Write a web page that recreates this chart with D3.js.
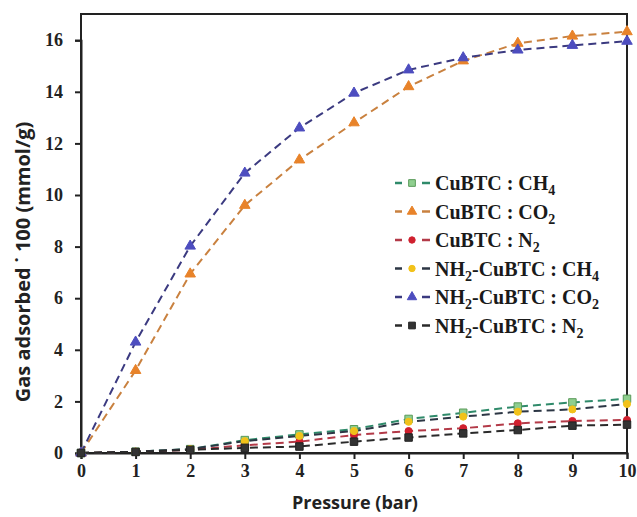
<!DOCTYPE html>
<html><head><meta charset="utf-8">
<script src="https://cdn.jsdelivr.net/npm/d3@7"></script>
<style>body{margin:0;background:#fff}svg{display:block}</style>
</head><body>
<svg id="c" width="637" height="517"></svg>
<script>
const pressure = [0,1,2,3,4,5,6,7,8,9,10];
const cubtcCH4 = [0,0.05,0.15,0.5,0.72,0.92,1.32,1.56,1.8,1.96,2.1];
const cubtcCO2 = [0,3.2,6.94,9.6,11.36,12.8,14.2,15.2,15.88,16.16,16.33];
const cubtcN2  = [0,0.05,0.12,0.3,0.44,0.7,0.85,0.96,1.15,1.24,1.28];
const nh2CH4   = [0,0.05,0.15,0.46,0.66,0.85,1.21,1.41,1.6,1.69,1.9];
const nh2CO2   = [0,4.3,8.02,10.85,12.6,13.95,14.85,15.32,15.62,15.8,15.96];
const nh2N2    = [0,0.04,0.12,0.2,0.25,0.44,0.6,0.76,0.89,1.06,1.1];
const xTicks = [0,1,2,3,4,5,6,7,8,9,10];
const yTicks = [0,2,4,6,8,10,12,14,16];

const series = [
  {pre:"", name:"CuBTC : CH", sub:"4", vals:cubtcCH4, line:"#2f8a6a", fill:"#8fcf8f", stroke:"#5a9a5a", shape:"square"},
  {pre:"", name:"CuBTC : CO", sub:"2", vals:cubtcCO2, line:"#c9813f", fill:"#e8832a", stroke:"#e8832a", shape:"triangle"},
  {pre:"", name:"CuBTC : N", sub:"2", vals:cubtcN2, line:"#b33a48", fill:"#d0202e", stroke:"#d0202e", shape:"circle"},
  {pre:"NH", name:"-CuBTC : CH", sub:"4", vals:nh2CH4, line:"#2c3644", fill:"#f2c21a", stroke:"#f2c21a", shape:"circle"},
  {pre:"NH", name:"-CuBTC : CO", sub:"2", vals:nh2CO2, line:"#3b3a80", fill:"#4d4dbf", stroke:"#4d4dbf", shape:"triangle"},
  {pre:"NH", name:"-CuBTC : N", sub:"2", vals:nh2N2, line:"#2a2a2a", fill:"#333333", stroke:"#222", shape:"square"}
];

const svg = d3.select("#c");
const L=81, R=627, T=14, B=453;
const x = d3.scaleLinear().domain([0,10]).range([L,R]);
const y = d3.scaleLinear().domain([0,16]).range([B, B-16*25.8]);

svg.append("rect").attr("x",L).attr("y",T).attr("width",R-L).attr("height",B-T)
  .attr("fill","none").attr("stroke","#222").attr("stroke-width",2);

const xa = svg.append("g").attr("transform",`translate(0,${B})`)
  .call(d3.axisBottom(x).tickValues(xTicks).tickSize(6).tickPadding(5).tickFormat(d3.format("d")));
const ya = svg.append("g").attr("transform",`translate(${L},0)`)
  .call(d3.axisLeft(y).tickValues(yTicks).tickSize(6).tickPadding(12).tickFormat(d3.format("d")));
[xa,ya].forEach(a=>{
  a.select(".domain").attr("stroke","#222").attr("stroke-width",2);
  a.selectAll(".tick line").attr("stroke","#222").attr("stroke-width",2);
  a.selectAll(".tick text").attr("font-family","'Liberation Serif', serif").attr("font-weight","bold")
    .attr("font-size",18).attr("fill","#222");
});

function sym(shape, k){
  k = k||1;
  if(shape==="square") return d3.symbol().type(d3.symbolSquare).size(56*k)();
  if(shape==="triangle") return d3.symbol().type(d3.symbolTriangle).size(48*k)();
  return d3.symbol().type(d3.symbolCircle).size(40*k)();
}

const line = d3.line().x((d,i)=>x(pressure[i])).y(d=>y(d));
const g = svg.append("g");
series.forEach(s=>{
  g.append("path").datum(s.vals).attr("d",line).attr("fill","none")
    .attr("stroke",s.line).attr("stroke-width",2).attr("stroke-dasharray","8,5");
});
series.forEach(s=>{
  g.selectAll(null).data(s.vals).enter().append("path")
    .attr("d",sym(s.shape))
    .attr("transform",(d,i)=>`translate(${x(pressure[i])},${y(d)})`)
    .attr("fill",s.fill).attr("stroke",s.stroke).attr("stroke-width",1);
});

// legend
const lg = svg.append("g");
series.forEach((s,i)=>{
  const cy = 183 + i*28.5;
  [[395,402],[422,430]].forEach(([a,b])=>{
    lg.append("line").attr("x1",a).attr("x2",b).attr("y1",cy).attr("y2",cy)
      .attr("stroke",s.line).attr("stroke-width",2.5);
  });
  lg.append("path").attr("d",sym(s.shape,0.8)).attr("transform",`translate(412,${cy})`)
    .attr("fill",s.fill).attr("stroke",s.stroke);
  const t = lg.append("text").attr("x",435).attr("y",cy+7)
    .attr("font-family","'Liberation Serif', serif").attr("font-weight","bold").attr("font-size",20).attr("fill","#1a1a1a");
  if(s.pre){
    t.append("tspan").text(s.pre);
    t.append("tspan").text("2").attr("font-size",14).attr("dy",5);
    t.append("tspan").text(s.name).attr("dy",-5);
  } else {
    t.append("tspan").text(s.name);
  }
  t.append("tspan").text(s.sub).attr("font-size",14).attr("dy",5);
});

svg.append("text").attr("x",355).attr("y",509).attr("text-anchor","middle")
  .attr("font-family","'Open Sans'").attr("font-weight","bold").attr("font-size",18).attr("fill","#222")
  .text("Pressure (bar)");
svg.append("text").attr("transform","translate(30,262) rotate(-90)").attr("text-anchor","middle")
  .attr("font-family","'Open Sans'").attr("font-weight","bold").attr("font-size",20).attr("fill","#222")
  .text("Gas adsorbed \u02D9 100 (mmol/g)");
</script>
</body></html>
